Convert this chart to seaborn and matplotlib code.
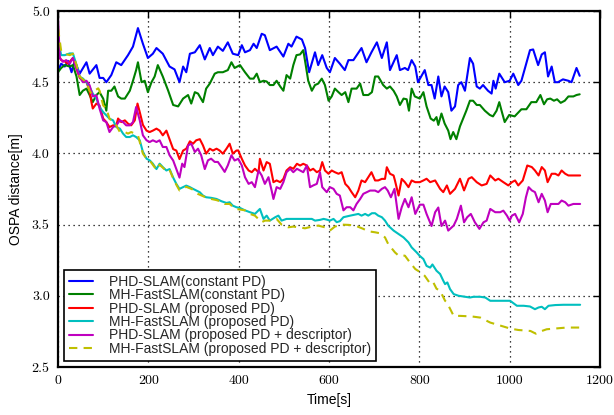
import matplotlib
matplotlib.use("Agg")
import matplotlib.pyplot as plt
import seaborn as sns
import pandas as pd

# ---- data (time [s], OSPA distance [m]) ----
PHD_CONST = [(0,4.58),(7,4.63),(15,4.61),(22,4.65),(30,4.57),(37,4.65),(48,4.56),(63,4.64),(70,4.56),(85,4.62),
    (92,4.53),(100,4.53),(107,4.50),(118,4.55),(129,4.64),(140,4.62),(155,4.69),(166,4.75),(177,4.88),(188,4.77),
    (199,4.67),(210,4.70),(218,4.74),(232,4.70),(247,4.61),(258,4.59),(269,4.50),(277,4.61),(284,4.57),(292,4.70),
    (303,4.71),(314,4.76),(325,4.66),(336,4.74),(343,4.69),(354,4.75),(365,4.72),(376,4.78),(387,4.70),(399,4.69),
    (407,4.76),(414,4.71),(425,4.725),(433,4.77),(440,4.74),(451,4.84),(458,4.83),(469,4.725),(484,4.75),(499,4.68),
    (510,4.77),(517,4.75),(528,4.82),(540,4.80),(547,4.74),(556,4.57),(569,4.71),(576,4.62),(585,4.69),(595,4.60),
    (602,4.57),(613,4.67),(624,4.63),(635,4.585),(643,4.655),(654,4.655),(672,4.74),(683,4.64),(694,4.71),(706,4.78),
    (717,4.67),(728,4.78),(735,4.585),(750,4.69),(757,4.585),(768,4.60),(775,4.585),(783,4.655),(791,4.61),(797,4.50),
    (812,4.585),(820,4.48),(827,4.48),(834,4.385),(842,4.54),(849,4.40),(856,4.47),(864,4.43),(871,4.30),(879,4.33),
    (886,4.48),(893,4.50),(901,4.44),(912,4.67),(919,4.63),(927,4.47),(934,4.455),(941,4.48),(952,4.44),(960,4.42),
    (964,4.51),(969,4.455),(977,4.56),(989,4.50),(1000,4.51),(1008,4.56),(1019,4.48),(1026,4.51),(1034,4.60),
    (1045,4.725),(1052,4.73),(1063,4.62),(1071,4.695),(1078,4.71),(1085,4.54),(1093,4.61),(1100,4.50),(1107,4.50),
    (1118,4.52),(1130,4.51),(1137,4.50),(1148,4.60),(1155,4.545)]

MH_CONST = [(0,4.57),(7,4.60),(15,4.62),(26,4.61),(33,4.62),(41,4.54),(48,4.41),(55,4.44),(63,4.455),(70,4.41),
    (77,4.36),(85,4.41),(92,4.43),(100,4.385),(107,4.30),(111,4.44),(118,4.44),(125,4.47),(133,4.40),(140,4.385),
    (148,4.385),(159,4.44),(166,4.51),(173,4.585),(177,4.64),(185,4.50),(192,4.51),(199,4.43),(207,4.50),(214,4.54),
    (221,4.62),(232,4.54),(244,4.44),(255,4.34),(266,4.33),(277,4.385),(288,4.41),(295,4.35),(303,4.43),(310,4.42),
    (321,4.36),(328,4.455),(336,4.49),(347,4.56),(354,4.57),(365,4.57),(376,4.585),(384,4.64),(391,4.60),(403,4.62),
    (414,4.57),(425,4.525),(433,4.525),(440,4.56),(447,4.50),(455,4.51),(462,4.505),(469,4.48),(477,4.48),(484,4.51),
    (492,4.47),(499,4.44),(506,4.55),(514,4.525),(521,4.62),(528,4.69),(536,4.695),(543,4.725),(548,4.63),(554,4.51),
    (562,4.44),(569,4.48),(576,4.49),(584,4.525),(591,4.48),(599,4.37),(606,4.40),(613,4.455),(621,4.43),(628,4.41),
    (636,4.43),(643,4.36),(650,4.455),(661,4.455),(669,4.49),(676,4.41),(687,4.41),(695,4.43),(702,4.54),(709,4.54),
    (720,4.48),(728,4.455),(735,4.47),(743,4.44),(750,4.40),(757,4.34),(765,4.385),(772,4.38),(777,4.30),(783,4.455),
    (790,4.40),(801,4.385),(809,4.43),(816,4.33),(825,4.245),(832,4.23),(838,4.255),(842,4.20),(849,4.28),(856,4.21),
    (864,4.16),(869,4.10),(875,4.15),(882,4.10),(890,4.19),(897,4.245),(904,4.30),(912,4.37),(919,4.37),(927,4.34),
    (934,4.34),(945,4.30),(956,4.27),(963,4.26),(971,4.30),(977,4.36),(982,4.30),(989,4.22),(999,4.27),(1011,4.26),
    (1026,4.31),(1037,4.31),(1048,4.36),(1059,4.36),(1068,4.41),(1076,4.345),(1083,4.38),(1090,4.385),(1098,4.37),
    (1105,4.38),(1113,4.355),(1122,4.37),(1130,4.40),(1141,4.40),(1148,4.41),(1155,4.415)]

PHD_PROP = [(0,4.70),(7,4.655),(15,4.646),(22,4.63),(33,4.67),(41,4.595),(48,4.53),(55,4.51),(63,4.50),(70,4.44),
    (74,4.36),(77,4.315),(85,4.35),(92,4.337),(100,4.245),(107,4.22),(114,4.185),(122,4.197),(129,4.197),(133,4.245),
    (140,4.22),(148,4.232),(155,4.209),(162,4.197),(170,4.232),(176,4.35),(181,4.29),(188,4.20),(196,4.16),(203,4.15),
    (210,4.16),(218,4.174),(225,4.16),(232,4.127),(240,4.16),(247,4.10),(255,4.03),(262,4.02),(269,3.96),(277,4.02),
    (284,4.033),(292,4.085),(299,4.068),(306,4.092),(314,4.10),(321,4.056),(328,3.998),(336,4.033),(343,4.02),
    (351,4.033),(358,4.02),(365,3.998),(373,4.033),(380,4.068),(387,3.998),(395,4.02),(399,4.021),(407,3.962),
    (414,3.915),(422,3.88),(429,3.868),(436,3.892),(444,3.868),(447,3.962),(455,3.88),(462,3.939),(469,3.927),
    (477,3.798),(484,3.81),(492,3.798),(499,3.821),(506,3.88),(514,3.903),(521,3.892),(529,3.927),(536,3.915),
    (543,3.927),(551,3.915),(558,3.88),(565,3.892),(573,3.868),(580,3.88),(585,3.939),(591,3.88),(599,3.857),
    (606,3.88),(613,3.868),(621,3.857),(628,3.868),(636,3.786),(643,3.763),(650,3.728),(658,3.692),(665,3.739),
    (672,3.81),(680,3.798),(687,3.833),(694,3.868),(702,3.81),(709,3.81),(717,3.821),(724,3.821),(728,3.903),
    (735,3.857),(743,3.845),(746,3.81),(754,3.704),(761,3.821),(768,3.798),(776,3.763),(783,3.81),(791,3.798),
    (801,3.798),(809,3.81),(816,3.822),(824,3.798),(835,3.81),(846,3.751),(853,3.728),(861,3.775),(868,3.716),
    (879,3.751),(890,3.822),(899,3.74),(909,3.822),(916,3.833),(927,3.798),(938,3.775),(949,3.786),(957,3.845),
    (968,3.81),(975,3.822),(986,3.798),(997,3.775),(1005,3.798),(1012,3.81),(1019,3.775),(1029,3.81),(1039,3.915),
    (1049,3.904),(1056,3.88),(1064,3.845),(1071,3.904),(1078,3.88),(1084,3.798),(1093,3.857),(1101,3.857),
    (1108,3.845),(1115,3.88),(1123,3.857),(1130,3.845),(1141,3.845),(1156,3.845)]

MH_PROP = [(0,4.80),(7,4.69),(15,4.69),(26,4.702),(33,4.702),(41,4.62),(48,4.538),(55,4.526),(63,4.50),(70,4.467),
    (77,4.42),(85,4.385),(92,4.326),(100,4.29),(107,4.267),(114,4.244),(122,4.232),(129,4.185),(137,4.174),
    (144,4.139),(151,4.115),(159,4.115),(166,4.127),(173,4.115),(181,4.092),(188,4.01),(196,3.963),(203,3.951),
    (210,3.928),(218,3.89),(225,3.928),(232,3.904),(240,3.88),(247,3.89),(255,3.83),(262,3.786),(269,3.751),
    (277,3.763),(284,3.774),(292,3.763),(299,3.751),(306,3.74),(314,3.727),(321,3.704),(328,3.692),(339,3.688),
    (351,3.68),(362,3.664),(373,3.652),(380,3.657),(387,3.633),(395,3.622),(403,3.617),(414,3.60),(425,3.587),
    (436,3.575),(447,3.61),(455,3.54),(462,3.563),(469,3.528),(481,3.552),(488,3.563),(495,3.528),(506,3.54),
    (521,3.54),(536,3.54),(547,3.54),(562,3.54),(569,3.528),(580,3.533),(588,3.54),(595,3.535),(602,3.528),
    (610,3.54),(617,3.517),(624,3.524),(632,3.552),(647,3.563),(665,3.575),(672,3.563),(680,3.575),(687,3.563),
    (695,3.58),(702,3.58),(709,3.563),(717,3.552),(724,3.528),(731,3.493),(743,3.458),(754,3.434),(765,3.41),
    (776,3.375),(783,3.34),(794,3.305),(801,3.28),(809,3.258),(816,3.21),(824,3.198),(829,3.22),(838,3.176),
    (846,3.153),(853,3.106),(857,3.082),(862,3.094),(868,3.047),(876,3.012),(887,3.0),(901,2.993),(912,2.988),
    (920,2.993),(935,2.993),(946,2.988),(957,2.965),(971,2.965),(986,2.965),(1001,2.965),(1016,2.93),(1031,2.93),
    (1045,2.925),(1056,2.906),(1064,2.918),(1071,2.923),(1078,2.906),(1086,2.93),(1101,2.935),(1119,2.937),
    (1137,2.937),(1156,2.937)]

PHD_DESC = [(0,4.95),(4,4.67),(11,4.643),(18,4.655),(26,4.63),(33,4.67),(41,4.595),(48,4.54),(55,4.50),(63,4.51),
    (70,4.478),(77,4.40),(85,4.408),(92,4.315),(100,4.232),(107,4.22),(114,4.15),(122,4.185),(129,4.197),(137,4.232),
    (144,4.22),(151,4.197),(159,4.197),(166,4.22),(173,4.326),(181,4.232),(188,4.127),(196,4.092),(203,4.08),
    (210,4.092),(218,4.08),(225,4.092),(232,4.045),(240,4.045),(247,3.987),(255,3.95),(262,3.89),(269,3.83),
    (275,3.928),(280,3.904),(288,4.056),(295,4.068),(303,4.01),(310,4.033),(317,3.987),(325,3.89),(332,3.951),
    (339,3.963),(347,3.94),(354,3.94),(362,3.904),(369,3.87),(376,3.916),(384,3.987),(391,3.95),(399,3.962),
    (407,3.915),(414,3.833),(422,3.786),(429,3.798),(436,3.763),(444,3.88),(451,3.845),(458,3.786),(466,3.833),
    (473,3.739),(477,3.68),(484,3.763),(492,3.751),(499,3.798),(506,3.868),(514,3.892),(521,3.868),(529,3.892),
    (536,3.88),(543,3.868),(551,3.915),(558,3.763),(565,3.775),(573,3.786),(580,3.868),(585,3.763),(595,3.728),
    (602,3.763),(610,3.751),(617,3.716),(624,3.704),(632,3.60),(639,3.622),(647,3.622),(654,3.60),(661,3.645),
    (669,3.68),(676,3.716),(684,3.728),(691,3.739),(702,3.739),(709,3.728),(717,3.751),(724,3.763),(730,3.739),
    (737,3.692),(745,3.751),(754,3.54),(761,3.622),(768,3.68),(776,3.622),(783,3.692),(791,3.575),(801,3.64),
    (809,3.64),(816,3.575),(827,3.49),(835,3.587),(842,3.62),(849,3.49),(857,3.528),(864,3.458),(876,3.493),
    (883,3.54),(892,3.633),(899,3.516),(906,3.552),(914,3.575),(923,3.516),(933,3.47),(942,3.516),(949,3.528),
    (957,3.61),(968,3.587),(979,3.587),(986,3.598),(994,3.563),(1000,3.528),(1005,3.563),(1012,3.575),(1021,3.516),
    (1029,3.575),(1036,3.692),(1042,3.763),(1049,3.74),(1056,3.728),(1064,3.657),(1071,3.716),(1078,3.669),
    (1084,3.587),(1091,3.645),(1101,3.645),(1108,3.645),(1115,3.669),(1123,3.657),(1130,3.633),(1141,3.645),
    (1156,3.645)]

MH_DESC = [(0,4.88),(7,4.72),(15,4.70),(26,4.69),(33,4.70),(41,4.62),(48,4.54),(55,4.52),(63,4.50),(70,4.44),
    (74,4.42),(81,4.44),(89,4.457),(92,4.44),(100,4.337),(107,4.315),(114,4.244),(122,4.22),(129,4.197),(137,4.15),
    (148,4.15),(155,4.139),(162,4.15),(170,4.139),(177,4.127),(188,3.998),(196,3.963),(203,3.951),(210,3.92),
    (218,3.885),(225,3.92),(232,3.90),(240,3.875),(247,3.885),(255,3.825),(262,3.78),(269,3.74),(277,3.755),
    (284,3.765),(292,3.755),(299,3.745),(310,3.715),(321,3.70),(328,3.69),(339,3.68),(351,3.672),(362,3.66),
    (369,3.645),(380,3.645),(387,3.625),(395,3.61),(414,3.60),(425,3.575),(436,3.563),(451,3.517),(458,3.528),
    (473,3.528),(484,3.54),(495,3.50),(510,3.481),(521,3.486),(535,3.48),(547,3.474),(562,3.486),(576,3.493),
    (591,3.481),(602,3.458),(613,3.486),(628,3.50),(643,3.498),(658,3.493),(676,3.47),(687,3.453),(702,3.446),
    (713,3.439),(724,3.41),(731,3.364),(746,3.305),(754,3.282),(768,3.282),(779,3.235),(791,3.188),(800,3.17),
    (812,3.14),(823,3.09),(830,3.10),(838,3.05),(846,3.035),(857,2.965),(861,2.953),(876,2.859),(890,2.859),
    (916,2.855),(935,2.847),(957,2.812),(975,2.795),(1001,2.77),(1019,2.76),(1046,2.753),(1058,2.734),(1064,2.745),
    (1082,2.765),(1100,2.77),(1126,2.777),(1156,2.777)]

SERIES_LABELS = ["PHD-SLAM(constant PD)", "MH-FastSLAM(constant PD)", "PHD-SLAM (proposed PD)",
                 "MH-FastSLAM (proposed PD)", "PHD-SLAM (proposed PD + descriptor)",
                 "MH-FastSLAM (proposed PD + descriptor)"]
SERIES_DATA = [PHD_CONST, MH_CONST, PHD_PROP, MH_PROP, PHD_DESC, MH_DESC]
COLORS = ["#0000ff", "#008000", "#ff0000", "#00bfbf", "#bf00bf", "#bfbf00"]
X_TICKS = [0, 200, 400, 600, 800, 1000, 1200]
Y_TICKS = [2.5, 3.0, 3.5, 4.0, 4.5, 5.0]

sns.set_theme(style="white")
plt.rcParams["font.family"] = ["Liberation Sans", "DejaVu Sans"]

fig = plt.figure(figsize=(6.14, 4.15), dpi=100)
ax = fig.add_axes([58 / 614, 1 - 367 / 415, 542 / 614, 356 / 415])

for label, data, color in zip(SERIES_LABELS, SERIES_DATA, COLORS):
    df = pd.DataFrame(data, columns=["t", "v"])
    sns.lineplot(data=df, x="t", y="v", ax=ax, color=color, linewidth=1.5,
                 label=label, sort=False, estimator=None)
ax.lines[-1].set_dashes([4, 3])

ax.set_xlim(0, 1200)
ax.set_ylim(2.5, 5.0)
ax.set_xticks(X_TICKS)
ax.set_yticks(Y_TICKS)
ax.grid(True, color="black", linestyle=(0, (1, 3)), linewidth=0.9)
ax.tick_params(direction="in", length=5, width=1, top=True, right=True,
               labelsize=10, labelfontfamily="cmr10", colors="black", pad=6)
for sp in ax.spines.values():
    sp.set_color("black")
    sp.set_linewidth(1.6)
ax.set_facecolor("white")

ax.set_xlabel("Time[s]", fontsize=10, color="black", labelpad=4)
ax.set_ylabel("OSPA distance[m]", fontsize=10, color="black", labelpad=6)

leg = ax.legend(loc="lower left", fontsize=10, frameon=True, fancybox=False,
                edgecolor="black", framealpha=1, labelspacing=-0.04,
                handlelength=1.75, handletextpad=1.1, borderaxespad=0.45,
                borderpad=0.35)
leg.get_frame().set_linewidth(1.2)

fig.savefig("out.png", dpi=100, facecolor="white")
